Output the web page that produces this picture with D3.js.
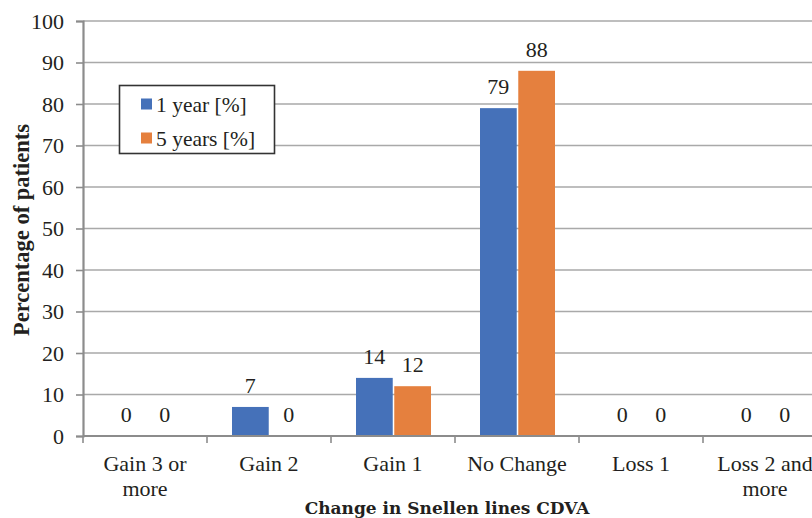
<!DOCTYPE html>
<html>
<head>
<meta charset="utf-8">
<script src="https://cdn.jsdelivr.net/npm/d3@7/dist/d3.min.js"></script>
<style>
  html, body { margin: 0; padding: 0; background: #fff; overflow: hidden; }
  svg { display: block; }
  svg text { font-family: "Liberation Serif", "DejaVu Serif", serif; fill: #231f20; }
  svg text.xtitle { font-family: "DejaVu Serif", serif; }
</style>
</head>
<body>
<svg id="chart" width="812" height="518"></svg>
<script>
// Change in Snellen lines of CDVA, share of patients at 1 and 5 years
const categories = [["Gain 3 or", "more"], ["Gain 2"], ["Gain 1"], ["No Change"], ["Loss 1"], ["Loss 2 and", "more"]];
const seriesNames = ["1 year [%]", "5 years [%]"];
const oneYear = [0, 7, 14, 79, 0, 0];
const fiveYears = [0, 0, 12, 88, 0, 0];
const yTicks = [0, 10, 20, 30, 40, 50, 60, 70, 80, 90, 100];
const colors = ["#4571B9", "#E5803E"];

const svg = d3.select("#chart");

const plotLeft = 83, plotRight = 827, plotTop = 21, plotBottom = 436;

const x = d3.scaleBand().domain(d3.range(categories.length)).range([plotLeft, plotRight]).paddingInner(0).paddingOuter(0);
const y = d3.scaleLinear().domain([0, 100]).range([plotBottom, plotTop]);

// Horizontal gridlines
svg.append("g").selectAll("line").data(yTicks.filter(d => d > 0)).join("line")
  .attr("x1", plotLeft).attr("x2", 812)
  .attr("y1", d => y(d)).attr("y2", d => y(d))
  .attr("stroke", "#a9a9a9").attr("stroke-width", 1.5);

// Y axis
const yAxis = svg.append("g").attr("transform", `translate(${plotLeft},0)`)
  .call(d3.axisLeft(y).tickValues(yTicks).tickSize(7).tickPadding(12));
yAxis.attr("font-family", null).attr("font-size", null);
yAxis.select(".domain").attr("stroke", "#8c8c8c").attr("stroke-width", 2.2);
yAxis.selectAll(".tick line").attr("stroke", "#8c8c8c").attr("stroke-width", 1.6);
yAxis.selectAll(".tick text").attr("font-size", 22).attr("fill", "#231f20").attr("dy", "0.34em");

// X axis with ticks at category boundaries
const xg = svg.append("g");
xg.selectAll("line.tk").data(d3.range(categories.length + 1)).join("line").attr("class", "tk")
  .attr("x1", i => plotLeft + i * x.bandwidth()).attr("x2", i => plotLeft + i * x.bandwidth())
  .attr("y1", plotBottom).attr("y2", plotBottom + 7)
  .attr("stroke", "#8c8c8c").attr("stroke-width", 1.6);

// Category labels (may wrap to two lines)
categories.forEach((lines, i) => {
  const cx = x(i) + x.bandwidth() / 2;
  const t = xg.append("text").attr("x", cx).attr("y", 471)
    .attr("text-anchor", "middle").attr("font-size", 22);
  lines.forEach((ln, j) => t.append("tspan").attr("x", cx).attr("dy", j === 0 ? 0 : 25).text(ln));
});

// Bars
const inner = d3.scaleBand().domain([0, 1]).range([25, 100]).paddingInner(0.04);
const series = [oneYear, fiveYears];
series.forEach((vals, s) => {
  const g = svg.append("g");
  g.selectAll("rect").data(vals).join("rect")
    .attr("x", (d, i) => x(i) + inner(s))
    .attr("width", inner.bandwidth())
    .attr("y", d => y(d))
    .attr("height", d => plotBottom - y(d))
    .attr("fill", colors[s]);
  g.selectAll("text").data(vals).join("text")
    .attr("x", (d, i) => x(i) + inner(s) + inner.bandwidth() / 2)
    .attr("y", d => y(d) - 14)
    .attr("text-anchor", "middle").attr("font-size", 22)
    .text(d => d);
});

// Baseline drawn over the bars
svg.append("line").attr("x1", plotLeft).attr("x2", 812).attr("y1", plotBottom).attr("y2", plotBottom)
  .attr("stroke", "#8c8c8c").attr("stroke-width", 2.2);

// Legend
const lg = svg.append("g");
lg.append("rect").attr("x", 119.5).attr("y", 85.5).attr("width", 155).attr("height", 68)
  .attr("fill", "#fff").attr("stroke", "#333").attr("stroke-width", 1.6);
seriesNames.forEach((name, i) => {
  const cy = 104 + i * 34;
  lg.append("rect").attr("x", 141).attr("y", cy - 5.5).attr("width", 11).attr("height", 11).attr("fill", colors[i]);
  lg.append("text").attr("x", 156).attr("y", cy).attr("dy", "0.35em")
    .attr("font-size", 21.5).text(name);
});

// Axis titles
svg.append("text").attr("transform", "translate(29,230) rotate(-90)")
  .attr("text-anchor", "middle").attr("font-weight", "bold")
  .attr("font-size", 22.5).text("Percentage of patients");
svg.append("text").attr("class", "xtitle").attr("x", 447).attr("y", 514)
  .attr("text-anchor", "middle").attr("font-weight", "bold")
  .attr("font-size", 17).text("Change in Snellen lines CDVA");
</script>
</body>
</html>
